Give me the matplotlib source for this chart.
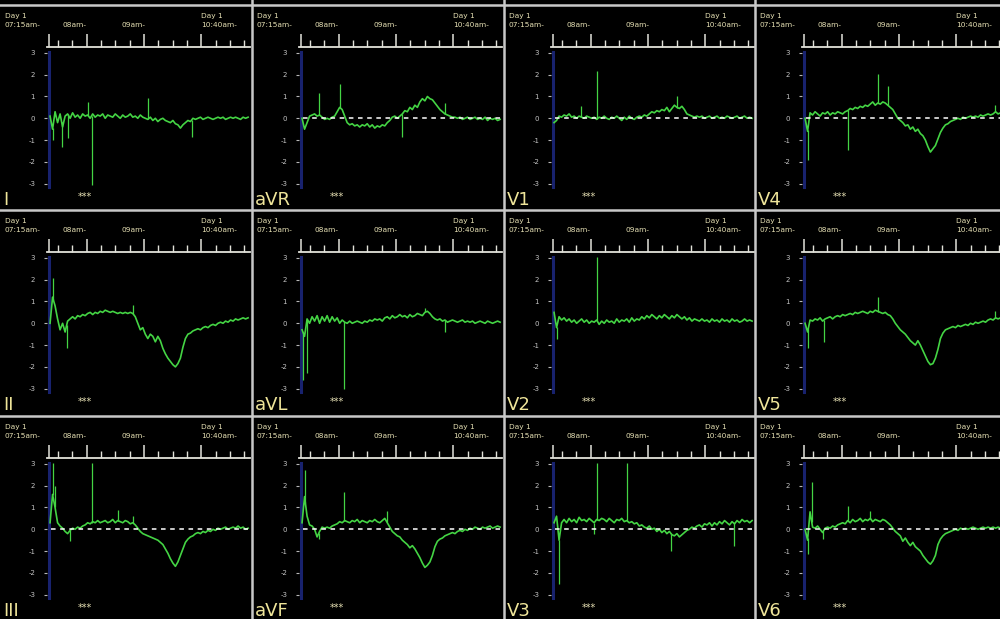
import numpy as np
import matplotlib
matplotlib.use('Agg')
import matplotlib.pyplot as plt
from matplotlib.lines import Line2D

# ST-level trend per lead, mm, sampled evenly from 07:21 to 10:49
lead_I = [0.1, -0.5, 0.3, -0.2, 0.2, -0.4, 0.1, 0.2, 0.0, 0.25,
          0.05, 0.15, 0.0, 0.2, 0.1, 0.15, 0.0, 0.2, 0.05, 0.15,
          0.1, 0.2, 0.0, 0.15, 0.1, 0.05, 0.2, 0.1, 0.0, 0.15,
          0.05, 0.1, 0.2, 0.05, 0.1, 0.0, 0.15, 0.05, 0.0, -0.05,
          0.05, -0.1, 0.0, -0.15, -0.05, 0.0, -0.1, -0.15, -0.2, -0.1,
          -0.25, -0.3, -0.45, -0.3, -0.2, -0.1, -0.15, 0.0, -0.05, 0.0,
          0.05, -0.05, 0.0, 0.05, 0.0, -0.05, 0.0, 0.05, 0.0, 0.05,
          -0.05, 0.0, 0.05, 0.0, 0.05, 0.0, -0.05, 0.05, 0.0, 0.05]
lead_aVR = [0.0, -0.5, -0.2, 0.1, 0.15, 0.2, 0.1, 0.15, 0.05, -0.05,
            0.0, -0.05, 0.05, 0.1, 0.3, 0.5, 0.4, 0.1, -0.2, -0.3,
            -0.25, -0.35, -0.3, -0.4, -0.3, -0.35, -0.25, -0.4, -0.3, -0.45,
            -0.35, -0.4, -0.3, -0.35, -0.2, -0.1, 0.05, 0.1, 0.0, 0.1,
            0.2, 0.35, 0.3, 0.5, 0.4, 0.6, 0.5, 0.75, 0.9, 0.8,
            1.0, 0.9, 0.85, 0.7, 0.55, 0.4, 0.3, 0.2, 0.15, 0.1,
            0.05, 0.05, 0.0, 0.05, -0.05, 0.0, 0.05, -0.05, 0.0, 0.05,
            -0.05, 0.0, -0.05, 0.05, -0.1, 0.0, -0.05, 0.0, -0.1, -0.05]
lead_V1 = [-0.2, -0.1, 0.1, 0.05, 0.15, 0.1, 0.2, 0.05, 0.1, 0.0,
           0.1, 0.05, 0.0, 0.1, 0.05, 0.0, 0.05, -0.05, 0.05, 0.0,
           0.1, 0.0, -0.05, 0.05, 0.0, 0.1, 0.0, -0.1, 0.05, -0.05,
           0.1, 0.0, -0.05, 0.05, 0.1, 0.05, 0.15, 0.1, 0.2, 0.3,
           0.25, 0.35, 0.3, 0.4, 0.35, 0.5, 0.3, 0.45, 0.6, 0.5,
           0.45, 0.55, 0.4, 0.2, 0.15, 0.1, 0.05, 0.1, 0.05, 0.1,
           0.0, 0.05, 0.1, 0.0, 0.05, 0.1, 0.0, 0.05, 0.0, 0.1,
           0.05, 0.0, 0.05, 0.1, 0.0, 0.05, 0.1, 0.0, 0.05, 0.0]
lead_V4 = [0.0, -0.6, 0.25, 0.15, 0.3, 0.2, 0.1, 0.25, 0.2, 0.3,
           0.15, 0.25, 0.2, 0.3, 0.25, 0.2, 0.3, 0.35, 0.45, 0.4,
           0.5, 0.45, 0.55, 0.5, 0.6, 0.55, 0.65, 0.75, 0.6, 0.7,
           0.65, 0.75, 0.7, 0.6, 0.5, 0.4, 0.2, 0.0, -0.1, -0.2,
           -0.35, -0.3, -0.5, -0.4, -0.6, -0.5, -0.7, -0.8, -1.0, -1.3,
           -1.55, -1.4, -1.25, -0.95, -0.65, -0.45, -0.3, -0.25, -0.15, -0.1,
           -0.05, 0.0, -0.05, 0.05, 0.0, 0.05, 0.1, 0.05, 0.1, 0.05,
           0.15, 0.1, 0.15, 0.2, 0.15, 0.2, 0.3, 0.2, 0.25, 0.2]
lead_II = [0.0, 1.2, 0.8, 0.2, -0.3, 0.0, -0.4, 0.1, 0.2, 0.3,
           0.2, 0.35, 0.3, 0.4, 0.35, 0.45, 0.5, 0.4, 0.5, 0.45,
           0.55, 0.5, 0.6, 0.55, 0.5, 0.55, 0.5, 0.45, 0.5, 0.45,
           0.5, 0.45, 0.5, 0.45, 0.3, 0.0, -0.3, -0.2, -0.5, -0.7,
           -0.5, -0.6, -0.85, -0.6, -0.8, -1.15, -1.4, -1.6, -1.75, -1.9,
           -2.0, -1.85, -1.6, -1.1, -0.7, -0.5, -0.45, -0.35, -0.3, -0.25,
           -0.3, -0.2, -0.15, -0.2, -0.1, -0.05, -0.1, 0.0, 0.05, 0.0,
           0.1, 0.05, 0.15, 0.1, 0.2, 0.15, 0.2, 0.25, 0.2, 0.25]
lead_aVL = [-0.3, -0.6, 0.2, 0.0, 0.3, 0.1, 0.35, 0.0, 0.3, 0.1,
            0.35, 0.05, 0.3, 0.1, 0.25, 0.0, 0.15, 0.05, 0.0, 0.1,
            0.0, 0.05, 0.1, 0.05, 0.0, 0.1, 0.05, 0.15, 0.1, 0.2,
            0.15, 0.2, 0.1, 0.25, 0.3, 0.2, 0.35, 0.25, 0.3, 0.4,
            0.3, 0.35, 0.25, 0.4, 0.3, 0.35, 0.45, 0.4, 0.35, 0.5,
            0.55, 0.45, 0.3, 0.2, 0.15, 0.2, 0.1, 0.15, 0.05, 0.1,
            0.15, 0.1, 0.05, 0.1, 0.15, 0.05, 0.1, 0.05, 0.1, 0.0,
            0.05, 0.1, 0.05, 0.0, 0.1, 0.05, 0.0, 0.05, 0.1, 0.05]
lead_V2 = [0.5, -0.2, 0.3, 0.15, 0.25, 0.1, 0.2, 0.05, 0.15, 0.0,
           0.1, 0.2, 0.05, 0.15, 0.0, 0.1, 0.05, 0.15, -0.05, 0.1,
           0.0, 0.15, 0.05, 0.1, 0.0, 0.2, 0.05, 0.15, 0.1, 0.2,
           0.05, 0.25, 0.1, 0.2, 0.15, 0.3, 0.2, 0.35, 0.25, 0.4,
           0.3, 0.2, 0.35, 0.25, 0.4, 0.3, 0.2, 0.35, 0.25, 0.4,
           0.3, 0.2, 0.3, 0.15, 0.25, 0.1, 0.2, 0.15, 0.1, 0.2,
           0.1, 0.15, 0.05, 0.2, 0.1, 0.15, 0.05, 0.2, 0.1, 0.15,
           0.05, 0.2, 0.1, 0.15, 0.05, 0.1, 0.2, 0.1, 0.15, 0.1]
lead_V5 = [0.0, -0.4, 0.15, 0.1, 0.2, 0.15, 0.25, 0.1, 0.2, 0.25,
           0.3, 0.2, 0.3, 0.35, 0.3, 0.4, 0.35, 0.4, 0.45, 0.4,
           0.5, 0.45, 0.5, 0.55, 0.5, 0.45, 0.55, 0.5, 0.6, 0.55,
           0.5, 0.45, 0.5, 0.4, 0.35, 0.2, 0.0, -0.15, -0.3, -0.4,
           -0.5, -0.65, -0.8, -0.9, -1.0, -0.8, -1.0, -1.25, -1.5, -1.75,
           -1.9, -1.85, -1.6, -1.2, -0.7, -0.45, -0.3, -0.25, -0.2, -0.15,
           -0.2, -0.1, -0.15, -0.1, -0.05, -0.1, 0.0, -0.05, 0.05, 0.0,
           0.05, 0.1, 0.05, 0.15, 0.2, 0.15, 0.25, 0.2, 0.25, 0.2]
lead_III = [0.3, 1.6, 1.0, 0.3, 0.15, 0.05, -0.1, -0.2, -0.05, 0.05,
            0.0, 0.1, 0.05, 0.15, 0.2, 0.3, 0.25, 0.35, 0.3, 0.4,
            0.3, 0.35, 0.4, 0.3, 0.35, 0.45, 0.3, 0.4, 0.35, 0.3,
            0.4, 0.35, 0.25, 0.3, 0.2, 0.05, -0.1, -0.2, -0.25, -0.3,
            -0.35, -0.4, -0.45, -0.5, -0.6, -0.7, -0.9, -1.1, -1.35, -1.55,
            -1.7, -1.5, -1.2, -0.9, -0.6, -0.45, -0.35, -0.3, -0.2, -0.15,
            -0.2, -0.1, -0.15, -0.05, -0.1, 0.0, -0.05, 0.05, 0.0, 0.05,
            0.1, 0.0, 0.05, 0.1, 0.05, 0.15, 0.05, 0.1, 0.0, 0.05]
lead_aVF = [0.3, 1.5, 0.6, 0.2, 0.15, 0.0, -0.35, -0.1, 0.1, 0.05,
            0.1, 0.05, 0.15, 0.2, 0.25, 0.35, 0.3, 0.4, 0.35, 0.3,
            0.4, 0.35, 0.45, 0.3, 0.4, 0.35, 0.3, 0.4, 0.35, 0.45,
            0.35, 0.3, 0.4, 0.5, 0.3, 0.1, -0.1, -0.2, -0.3, -0.35,
            -0.5, -0.6, -0.7, -0.85, -0.75, -0.9, -1.1, -1.3, -1.55, -1.75,
            -1.65, -1.5, -1.2, -0.8, -0.55, -0.45, -0.4, -0.3, -0.25, -0.2,
            -0.15, -0.2, -0.1, -0.05, -0.1, 0.0, -0.05, 0.05, 0.0, 0.1,
            0.05, 0.0, 0.1, 0.05, 0.1, 0.15, 0.05, 0.1, 0.15, 0.1]
lead_V3 = [0.3, 0.6, -0.5, 0.3, 0.45, 0.3, 0.5, 0.35, 0.45, 0.3,
           0.55, 0.4, 0.45, 0.35, 0.5, 0.4, 0.3, 0.45, 0.4, 0.5,
           0.45, 0.35, 0.5, 0.4, 0.3, 0.45, 0.4, 0.5, 0.35, 0.4,
           0.3, 0.35, 0.25, 0.3, 0.15, 0.2, 0.1, 0.05, 0.15, 0.0,
           0.05, -0.1, 0.0, -0.15, -0.05, -0.2, -0.1, -0.25, -0.3, -0.2,
           -0.35, -0.25, -0.15, -0.05, 0.0, 0.1, 0.05, 0.15, 0.2, 0.1,
           0.25, 0.2, 0.3, 0.15, 0.3, 0.2, 0.35, 0.25, 0.4, 0.3,
           0.2, 0.35, 0.25, 0.4, 0.3, 0.45, 0.35, 0.4, 0.3, 0.4]
lead_V6 = [0.0, -0.5, 0.8, 0.1, 0.05, 0.15, 0.0, -0.15, 0.05, 0.1,
           0.05, 0.15, 0.1, 0.2, 0.25, 0.3, 0.25, 0.4, 0.3, 0.45,
           0.35, 0.4, 0.5, 0.35, 0.45, 0.4, 0.5, 0.35, 0.45, 0.4,
           0.35, 0.45, 0.4, 0.3, 0.2, 0.05, -0.1, -0.2, -0.3, -0.55,
           -0.4, -0.6, -0.75, -0.6, -0.8, -0.9, -1.0, -1.2, -1.35, -1.5,
           -1.6, -1.45, -1.2, -0.7, -0.45, -0.3, -0.2, -0.15, -0.1, -0.05,
           0.0, -0.05, 0.05, 0.0, 0.05, 0.0, 0.05, 0.1, 0.05, 0.0,
           0.05, 0.1, 0.05, 0.1, 0.05, 0.1, 0.05, 0.1, 0.05, 0.1]

# single-beat spikes: time (minutes after midnight) and tip value
spk_I_t = [444.4, 453.8, 460.1, 481.7, 485.2, 544.6, 589.9]
spk_I_v = [-1.0, -1.3, -0.9, 0.75, -3.05, 0.95, -0.85]
spk_aVR_t = [459.1, 481.7, 546.3, 591.7]
spk_aVR_v = [1.15, 1.55, -0.85, 0.7]
spk_V1_t = [469.5, 487.0, 570.7]
spk_V1_v = [0.55, 2.15, 1.0]
spk_V4_t = [444.4, 487.0, 518.4, 528.2, 640.5]
spk_V4_v = [-1.9, -1.45, 2.05, 1.5, 0.6]
spk_II_t = [445.1, 459.1, 528.9]
spk_II_v = [2.1, -1.15, 0.85]
spk_aVL_t = [442.3, 446.8, 485.6, 591.7, 570.7]
spk_aVL_v = [-2.6, -2.3, -3.0, -0.4, 0.7]
spk_V2_t = [444.4, 487.0]
spk_V2_v = [-0.7, 3.05]
spk_V5_t = [445.1, 461.9, 518.4, 640.5]
spk_V5_v = [-1.15, -0.85, 1.2, 0.55]
spk_III_t = [444.4, 446.8, 485.2, 462.5, 513.2, 528.9]
spk_III_v = [3.05, 2.0, 3.05, -0.55, 0.9, 0.6]
spk_aVF_t = [445.1, 485.2, 459.1, 530.6]
spk_aVF_v = [2.7, 1.7, -0.45, 0.85]
spk_V3_t = [446.8, 487.0, 517.7, 483.5, 563.8, 630.1]
spk_V3_v = [-2.5, 3.05, 3.05, -0.2, -1.0, -0.75]
spk_V6_t = [444.4, 448.6, 460.8, 487.0, 509.7]
spk_V6_v = [-1.15, 2.15, -0.45, 1.05, 0.85]

t_start, t_end = 441.6, 649.0
y_ticks = [3, 2, 1, 0, -1, -2, -3]
major_ticks = [440, 480, 540, 600]
minor_ticks = [450, 465, 495, 510, 525, 555, 570, 585, 615, 630, 645]

# row-major panel order: name, values, spikes, dashed zero line
panels = [
    ('I', lead_I, spk_I_t, spk_I_v, False),
    ('aVR', lead_aVR, spk_aVR_t, spk_aVR_v, True),
    ('V1', lead_V1, spk_V1_t, spk_V1_v, True),
    ('V4', lead_V4, spk_V4_t, spk_V4_v, True),
    ('II', lead_II, spk_II_t, spk_II_v, False),
    ('aVL', lead_aVL, spk_aVL_t, spk_aVL_v, False),
    ('V2', lead_V2, spk_V2_t, spk_V2_v, False),
    ('V5', lead_V5, spk_V5_t, spk_V5_v, False),
    ('III', lead_III, spk_III_t, spk_III_v, True),
    ('aVF', lead_aVF, spk_aVF_t, spk_aVF_v, True),
    ('V3', lead_V3, spk_V3_t, spk_V3_v, True),
    ('V6', lead_V6, spk_V6_t, spk_V6_v, True),
]

W, H = 1000, 619
GREEN = '#44d444'
CREAM = '#e6e0b4'
LEAD = '#efe59a'
AXIS = '#e2e2da'
BLUE = '#18226e'

fig = plt.figure(figsize=(W / 100, H / 100), dpi=100, facecolor='black')

col_x = [0, 252, 504, 755]
row_y = [5, 210, 416]

for k, (name, vals, st, sv, dashed) in enumerate(panels):
    row, col = divmod(k, 4)
    x0, y0 = col_x[col], row_y[row] - 5
    ax = fig.add_axes([(x0 + 47) / W, 1 - (y0 + 190) / H, 203 / W, 143 / H])
    ax.set_facecolor('black')
    ax.set_xlim(438.4, 651.0)
    ax.set_ylim(-3.29, 3.27)

    for s in ('left', 'right', 'bottom'):
        ax.spines[s].set_visible(False)
    ax.spines['top'].set_color(AXIS)
    ax.spines['top'].set_linewidth(1.3)

    ax.xaxis.tick_top()
    ax.set_xticks(major_ticks)
    ax.set_xticks(minor_ticks, minor=True)
    ax.tick_params(axis='x', which='major', direction='out', length=9.5,
                   width=1.1, color=AXIS, labeltop=False, labelbottom=False)
    ax.tick_params(axis='x', which='minor', direction='out', length=5,
                   width=1.0, color=AXIS)
    ax.set_yticks(y_ticks)
    ax.set_yticklabels([str(v) for v in y_ticks])
    ax.tick_params(axis='y', length=2.5, width=0.8, color='#b8b8b8', pad=6,
                   labelsize=5, labelcolor='#c4c4c4')

    # blue baseline marker
    ax.plot([440.9, 440.9], [-3.15, 3.05], color=BLUE, lw=2.2, zorder=2)

    times = np.linspace(t_start, t_end, len(vals))
    ax.plot(times, vals, color=GREEN, lw=1.2, zorder=3)
    base = np.interp(st, times, vals)
    ax.vlines(st, base, sv, color=GREEN, lw=0.9, zorder=3)

    if dashed:
        ax.plot([443, 649], [0, 0], color='white', lw=1.1,
                ls=(0, (3, 3)), zorder=4)

    xt = ax.get_xaxis_transform()
    ax.text(-0.207, 1.22, 'Day 1', transform=ax.transAxes, ha='left',
            va='center', fontsize=5.3, color=CREAM, clip_on=False)
    ax.text(-0.207, 1.157, '07:15am-', transform=ax.transAxes, ha='left',
            va='center', fontsize=5.3, color=CREAM, clip_on=False)
    ax.text(480, 1.157, '08am-', transform=xt, ha='right', va='center',
            fontsize=5.3, color=CREAM, clip_on=False)
    ax.text(542, 1.157, '09am-', transform=xt, ha='right', va='center',
            fontsize=5.3, color=CREAM, clip_on=False)
    ax.text(600, 1.22, 'Day 1', transform=xt, ha='left', va='center',
            fontsize=5.3, color=CREAM, clip_on=False)
    ax.text(600, 1.157, '10:40am-', transform=xt, ha='left', va='center',
            fontsize=5.3, color=CREAM, clip_on=False)

    ax.text(-0.217, -0.105, name, transform=ax.transAxes, ha='left',
            va='baseline', fontsize=13, color=LEAD, clip_on=False)
    ax.text(0.185, -0.05, '***', transform=ax.transAxes, ha='center',
            va='center', fontsize=7, color=CREAM, clip_on=False)

# panel separators
for x in col_x[1:]:
    fig.add_artist(Line2D([x / W, x / W], [0, 1], color='#c8c8c8', lw=1.8))
for y in row_y:
    fig.add_artist(Line2D([0, 1], [1 - y / H, 1 - y / H], color='#c8c8c8', lw=1.8))

fig.savefig('out.png', dpi=100, facecolor='black')
